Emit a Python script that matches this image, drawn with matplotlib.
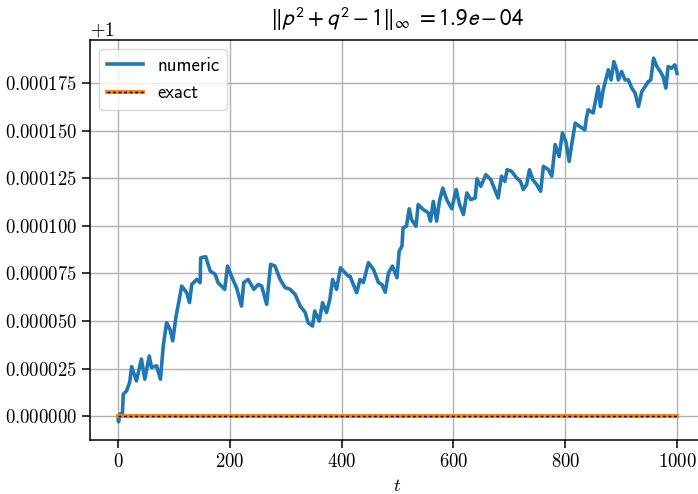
import matplotlib
matplotlib.use("Agg")
import matplotlib.pyplot as plt
from matplotlib.legend_handler import HandlerTuple

plt.rcParams["font.family"] = ["cmss10", "DejaVu Sans"]
plt.rcParams["mathtext.fontset"] = "cm"
plt.rcParams["axes.formatter.use_mathtext"] = True
plt.rcParams["axes.unicode_minus"] = False

# Time samples and deviation of p^2 + q^2 from 1 (in units of 1e-6)
t_numeric = [0, 1, 3, 8, 9.5, 15.5, 21, 24.5, 33, 42, 48, 56, 60, 69, 76, 81, 87,
             93, 98, 104, 108, 114, 123, 128, 132, 141, 147, 148, 157, 165, 174,
             179, 191, 196, 203, 212, 221, 225, 233, 243, 251, 257, 266, 273, 281,
             290, 299, 308, 317, 326, 335, 340, 348, 352, 360, 366, 373, 379, 384,
             391, 398, 412, 415, 427, 433, 439, 448, 457, 466, 472, 478, 484, 491,
             499, 503, 508, 510, 516, 521, 525, 533, 537, 546, 555, 559, 564, 570,
             575, 581, 588, 597, 605, 611, 618, 624, 631, 639, 642, 649, 658, 667,
             673, 680, 686, 692, 696, 704, 713, 720, 725, 731, 736, 742, 749, 756,
             761, 770, 776, 782, 789, 795, 801, 807, 812, 818, 826, 835, 838, 841,
             850, 859, 863, 868, 877, 882, 887, 892, 895, 901, 907, 913, 919, 925,
             931, 937, 943, 949, 953, 958, 964, 970, 975, 980, 984, 990, 996, 1000]
dev_numeric = [0, -3, 1, 1.5, 11.5, 13.3, 17.8, 26, 18.5, 30, 19.4, 31.6, 25.6, 26.4,
               19.4, 36.8, 49.1, 45.6, 39.5, 52.6, 58.7, 68.3, 64.8, 59.6, 69.2, 71.8,
               70.1, 83.2, 83.7, 76.2, 74.4, 70.1, 66.6, 78.8, 73.5, 67.5, 57.8, 70.1,
               71.8, 66.6, 69.2, 68.3, 58.7, 79.7, 78.8, 71.8, 67.5, 66.6, 63.9, 57.8,
               54.4, 49.1, 47.3, 55.2, 49.9, 59.6, 54.4, 61.3, 71.8, 66.6, 77.9, 73.5,
               73.5, 64.8, 71.8, 70.1, 80.6, 77, 70.1, 69.2, 65.1, 75.3, 78.8, 72.7,
               86.6, 89.3, 98.9, 99.7, 108.9, 103.3, 99.7, 111.1, 108.5, 106.8, 102.4,
               112.8, 102.4, 112.8, 119.8, 113.7, 108.9, 119, 111.1, 105.9, 117.2,
               113.7, 114.6, 124.6, 120.7, 126.8, 124.2, 119.8, 114.6, 126, 123.3,
               129.4, 128.6, 125.1, 123.3, 119, 121.6, 129.4, 124.2, 121.6, 118.1,
               131.2, 129.4, 126, 142.6, 136.4, 148.7, 144.3, 133.8, 143.4, 153.9,
               152.1, 150.4, 156.6, 160.9, 159.2, 173.1, 162.6, 171.4, 181.9, 176.6,
               186.2, 181.9, 176.6, 181, 176.6, 176.6, 172.3, 169.7, 162.6, 170.5,
               173.1, 175.8, 176.6, 188, 183.6, 181, 178.4, 172.3, 183.6, 182.7,
               184.5, 180]
t_exact = [0, 1000]
val_exact = [1.0, 1.0]
max_error = 1.9e-04

val_numeric = [1.0 + d * 1e-6 for d in dev_numeric]

fig = plt.figure(figsize=(6.98, 4.94), dpi=100)
ax = fig.add_axes([90 / 698, 1 - 440 / 494, 615 / 698, 400 / 494])

ln_num, = ax.plot(t_numeric, val_numeric, color="tab:blue", lw=2.6, label="numeric")
ln_ex, = ax.plot(t_exact, val_exact, color="tab:orange", lw=2.8)
ln_ex_dots, = ax.plot(t_exact, val_exact, color="black", lw=1.0, ls=(0, (2, 2)))

ax.grid(True, color="#b0b0b0", lw=1.0)
ax.set_axisbelow(True)
for sp in ax.spines.values():
    sp.set_linewidth(1.1)
ax.tick_params(labelsize=13.5, length=6, width=1.1, labelfontfamily="cmr10")
ax.yaxis.get_offset_text().set_fontfamily("cmr10")
ax.yaxis.get_offset_text().set_fontsize(13.5)

ax.set_xlabel("$t$", fontsize=13.5, labelpad=4)
ax.set_title(r"$\|p^2+q^2-1\|_\infty\ = %s$" % "{:.1e}".format(max_error),
             fontsize=16.5, math_fontfamily="stixsans", pad=10)

ax.legend([ln_num, (ln_ex, ln_ex_dots)], ["numeric", "exact"],
          handler_map={tuple: HandlerTuple(ndivide=1, pad=0)},
          loc="upper left", fontsize=13.5, handlelength=1.9, borderaxespad=0.5)

fig.savefig("out.png", dpi=100)
